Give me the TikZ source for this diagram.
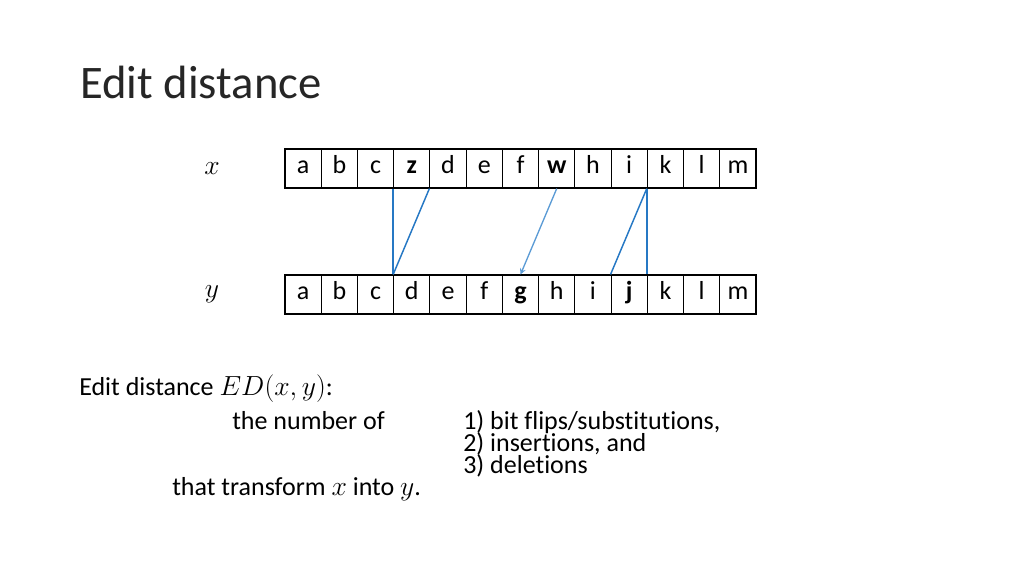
\documentclass[tikz,border=0pt]{standalone}
\usepackage{fontspec}
\setmainfont{Carlito}[Ligatures=NoCommon]
\definecolor{linkblue}{RGB}{38,120,196}
\definecolor{arrowblue}{RGB}{91,155,213}
\tikzset{cell/.style={draw=black,line width=0.8pt,minimum width=27.17pt,minimum height=29.25pt,inner sep=0pt,text height=10.5pt,text depth=3.5pt,anchor=center},
link/.style={color=linkblue,line width=1.1pt},
txt/.style={inner sep=0pt,anchor=base west}}
\begin{document}
\begin{tikzpicture}[x=0.75pt,y=-0.75pt,font=\fontsize{19.5}{23}\selectfont]
\useasboundingbox (0,0) rectangle (1024,576);

\node(T) at (80,98) [txt,font=\fontsize{35}{40}\selectfont,color=black!85] {Edit distance};

\node(X) at (212,168.5) [font=\fontsize{21}{23}\selectfont] {$x$};
\node(Y) at (212,294.5) [font=\fontsize{21}{23}\selectfont] {$y$};

% top row
\node(x1) at (303.12,168.5) [cell] {a};
\node(x2) at (339.35,168.5) [cell] {b};
\node(x3) at (375.58,168.5) [cell] {c};
\node(x4) at (411.81,168.5) [cell] {\textbf{z}};
\node(x5) at (448.03,168.5) [cell] {d};
\node(x6) at (484.26,168.5) [cell] {e};
\node(x7) at (520.50,168.5) [cell] {f};
\node(x8) at (556.73,168.5) [cell] {\textbf{w}};
\node(x9) at (592.96,168.5) [cell] {h};
\node(x10) at (629.19,168.5) [cell] {i};
\node(x11) at (665.42,168.5) [cell] {k};
\node(x12) at (701.65,168.5) [cell] {l};
\node(x13) at (737.88,168.5) [cell] {m};

% bottom row
\node(y1) at (303.12,294.5) [cell] {a};
\node(y2) at (339.35,294.5) [cell] {b};
\node(y3) at (375.58,294.5) [cell] {c};
\node(y4) at (411.81,294.5) [cell] {d};
\node(y5) at (448.03,294.5) [cell] {e};
\node(y6) at (484.26,294.5) [cell] {f};
\node(y7) at (520.50,294.5) [cell] {\textbf{g}};
\node(y8) at (556.73,294.5) [cell] {h};
\node(y9) at (592.96,294.5) [cell] {i};
\node(y10) at (629.19,294.5) [cell] {\textbf{j}};
\node(y11) at (665.42,294.5) [cell] {k};
\node(y12) at (701.65,294.5) [cell] {l};
\node(y13) at (737.88,294.5) [cell] {m};

\draw[link] (x4.south west) -- (y4.north west);
\draw[link] (x5.south west) -- (y4.north west);
\draw[->,>=stealth,color=arrowblue,line width=1pt] (x8.south) -- (y7.north);
\draw[link] (x11.south west) -- (y10.north west);
\draw[link] (x11.south west) -- (y11.north west);

\node(ED) at (79,395) [txt] {Edit distance $ED(x,y)$:};
\node(num) at (232,429) [txt] {the number of};
\node(op1) at (463,429) [txt] {1) bit flips/substitutions,};
\node(op2) at (463,451) [txt] {2) insertions, and};
\node(op3) at (463,473) [txt] {3) deletions};
\node(tr) at (172,495) [txt] {that transform $x$ into $y$.};

\end{tikzpicture}
\end{document}
